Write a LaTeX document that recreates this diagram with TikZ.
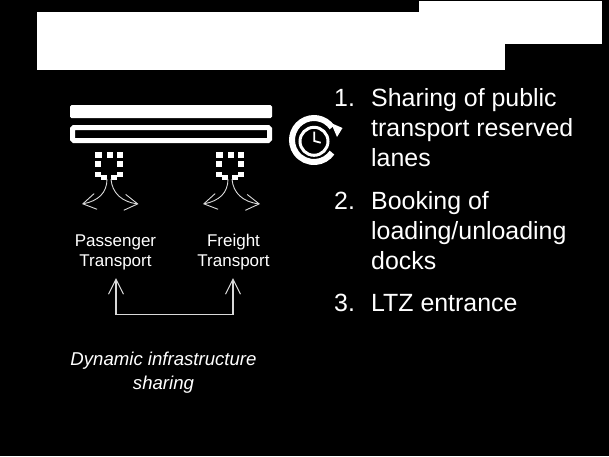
\documentclass[tikz,border=0pt]{standalone}
\usepackage{fontspec}
\setmainfont{Liberation Sans}
\usetikzlibrary{arrows.meta}
\tikzset{
  whitebox/.style={fill=white,draw=none},
  lanebar/.style={rounded corners=1.5pt},
  flow/.style={draw=white!85!black,line width=0.9pt,-{Straight Barb[length=13pt,width=16pt,line width=0.9pt]}},
  link/.style={draw=white!85!black,line width=1.2pt,{Straight Barb[length=15pt,width=15pt,line width=1.1pt]}-{Straight Barb[length=15pt,width=15pt,line width=1.1pt]}},
  small/.style={text=white,font=\fontsize{17}{20}\selectfont,align=center,inner sep=0pt},
  big/.style={text=white,font=\fontsize{24.9}{30}\selectfont,anchor=base west,inner sep=0pt},
  caption/.style={text=white,font=\fontsize{18.6}{24}\selectfont\itshape,align=center,inner sep=0pt},
}
\newcommand{\vehicleblocks}[1]{%
  \begin{scope}[shift={(#1,0)}]
  \foreach \xa/\ya/\xb/\yb in {95/152/102/157.5,106.5/152/112.5/157.5,116.5/152/123/157.5,
     95/161/100.5/167,117/161/123/167,
     95/171.5/100.5/177,117/171.5/123/177,
     100.5/174.5/106.5/180,111/174.5/117/180}
    \fill[white] (\xa,\ya) rectangle (\xb,\yb);
  \end{scope}}
\begin{document}
\begin{tikzpicture}[x=1pt,y=-1pt]
\useasboundingbox (0,0) rectangle (609,456);
\fill[black] (0,0) rectangle (609,456);
% title masks
\fill[whitebox] (419,1) rectangle (602,44);
\fill[whitebox] (37,12) rectangle (505,70);
% lanes
\fill[white,lanebar] (70,105) rectangle (272,118);
\draw[white,line width=5pt,lanebar] (72.5,127.5) rectangle (269.5,140.5);
% vehicles
\vehicleblocks{0}
\vehicleblocks{121}
% flow anchors
\coordinate (v1a) at (107,179); \coordinate (v1b) at (111,179);
\coordinate (v2a) at (228,179); \coordinate (v2b) at (232,179);
\coordinate (d1a) at (82,204); \coordinate (d1b) at (138.5,204);
\coordinate (d2a) at (203,204); \coordinate (d2b) at (260,204);
\draw[flow] (v1a) .. controls (107,193) and (98,201) .. (d1a);
\draw[flow] (v1b) .. controls (112,193) and (122,202) .. (d1b);
\draw[flow] (v2a) .. controls (228,193) and (219,201) .. (d2a);
\draw[flow] (v2b) .. controls (233,193) and (243,202) .. (d2b);
% labels
\node[small] (pax) at (115.5,252) {Passenger\\Transport};
\node[small] (frt) at (233.5,252) {Freight\\Transport};
\coordinate (pa) at (116,278); \coordinate (fa) at (233,278);
\draw[link] (pa) |- (174,314.5) -| (fa);
\node[caption] (cap) at (163.5,372.5) {Dynamic infrastructure\\sharing};
% icon
\begin{scope}[shift={(314,140)},x=1pt,y=1pt]
\draw[white,line width=6pt] (35:22) arc (35:325:22);
\fill[white] (17,17) -- (28.5,12) -- (23,3) -- cycle;
\draw[white,line width=3pt] (0,-1.3) circle (14);
\draw[white,line width=1.8pt] (0.3,8.3) -- (0.3,-1) -- (6.7,-2.7);
\end{scope}
% list
\node[big] (n1) at (334,106) {1.};
\node[big] (t1a) at (371,106) {Sharing of public};
\node[big] (t1b) at (371,136) {transport reserved};
\node[big] (t1c) at (371,166) {lanes};
\node[big] (n2) at (334,209) {2.};
\node[big] (t2a) at (371,209) {Booking of};
\node[big] (t2b) at (371,239) {loading/unloading};
\node[big] (t2c) at (371,269) {docks};
\node[big] (n3) at (334,311) {3.};
\node[big] (t3) at (371,311) {LTZ entrance};
\end{tikzpicture}
\end{document}
